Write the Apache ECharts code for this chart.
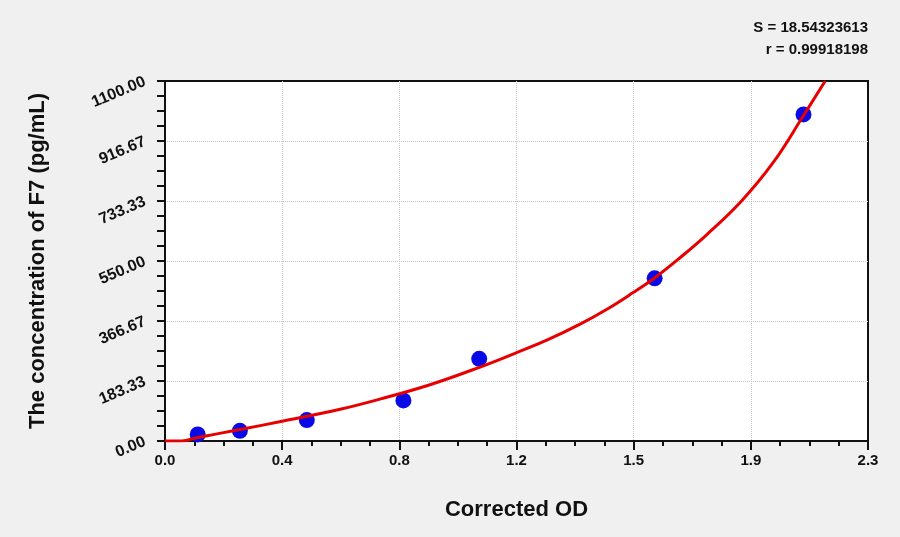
<!DOCTYPE html>
<html>
<head>
<meta charset="utf-8">
<script src="https://cdn.jsdelivr.net/npm/echarts@6/dist/echarts.min.js"></script>
<style>
  html, body { margin: 0; padding: 0; background: #f0f0f0; }
  #chart { width: 900px; height: 537px; }
</style>
</head>
<body>
<div id="chart"></div>
<script>
// measured standards (corrected OD, concentration)
const pointOD = [0.107, 0.245, 0.464, 0.780, 1.028, 1.602, 2.089];
const pointConc = [20, 31, 64, 124, 251, 497, 998];

// fitted curve
const curveOD = [0, 0.055, 0.104, 0.245, 0.387, 0.573, 0.703, 0.867, 1.031, 1.145, 1.249, 1.358, 1.450, 1.529, 1.603, 1.685, 1.772, 1.884, 1.990, 2.088, 2.160];
const curveConc = [0, 0, 10, 35, 61, 97, 128, 172, 226, 268, 308, 357, 405, 452, 499, 560, 630, 731, 851, 993, 1100];

const xTickLabels = ['0.0', '0.4', '0.8', '1.2', '1.5', '1.9', '2.3'];
const yTickLabels = ['0.00', '183.33', '366.67', '550.00', '733.33', '916.67', '1100.00'];

const xMax = 2.3, yMax = 1100;
const xStep = xMax / 6, yStep = yMax / 6;

const chart = echarts.init(document.getElementById('chart'));
const font = 'Arial, "Liberation Sans", sans-serif';
const grid = { color: '#c8c8c8', type: 'dotted', width: 1 };

chart.setOption({
  backgroundColor: '#f0f0f0',
  animation: false,
  grid: {
    left: 165, right: 32, top: 81, bottom: 96,
    show: true, backgroundColor: '#fff', borderColor: '#111', borderWidth: 2
  },
  graphic: [
    {
      type: 'text', right: 32, top: 20,
      style: { text: 'S = 18.54323613', font: 'bold 15px ' + font, fill: '#111', align: 'right' }
    },
    {
      type: 'text', right: 32, top: 42,
      style: { text: 'r = 0.99918198', font: 'bold 15px ' + font, fill: '#111', align: 'right' }
    }
  ],
  xAxis: {
    type: 'value', min: 0, max: xMax, interval: xStep,
    name: 'Corrected OD', nameLocation: 'middle', nameGap: 58,
    nameTextStyle: { fontFamily: font, fontWeight: 'bold', fontSize: 22, color: '#111' },
    axisLine: { onZero: false, lineStyle: { color: '#111', width: 2 } },
    axisTick: { length: 9, lineStyle: { color: '#111', width: 2 } },
    minorTick: { show: true, splitNumber: 4, length: 5, lineStyle: { color: '#111', width: 2 } },
    splitLine: { show: true, showMinLine: false, showMaxLine: false, lineStyle: grid },
    axisLabel: {
      margin: 12, fontFamily: font, fontWeight: 'bold', fontSize: 15, color: '#111',
      formatter: v => xTickLabels[Math.round(v / xStep)]
    }
  },
  yAxis: {
    type: 'value', min: 0, max: yMax, interval: yStep,
    name: 'The concentration of F7 (pg/mL)', nameLocation: 'middle', nameGap: 116,
    nameTextStyle: { fontFamily: font, fontWeight: 'bold', fontSize: 22, color: '#111' },
    axisLine: { onZero: false, lineStyle: { color: '#111', width: 2 } },
    axisTick: { length: 8, lineStyle: { color: '#111', width: 2 } },
    minorTick: { show: true, splitNumber: 4, length: 8, lineStyle: { color: '#111', width: 2 } },
    splitLine: { show: true, showMinLine: false, showMaxLine: false, lineStyle: grid },
    axisLabel: {
      margin: 20, rotate: 23, fontFamily: font, fontWeight: 'bold', fontSize: 16, color: '#111',
      formatter: v => yTickLabels[Math.round(v / yStep)]
    }
  },
  series: [
    {
      type: 'line',
      data: curveOD.map((x, i) => [x, curveConc[i]]),
      smooth: 0.4,
      showSymbol: false,
      lineStyle: { color: '#e80000', width: 3 },
      z: 3
    },
    {
      type: 'scatter',
      data: pointOD.map((x, i) => [x, pointConc[i]]),
      symbolSize: 16,
      itemStyle: { color: '#0a0ae6', opacity: 1 },
      z: 2
    }
  ]
});
</script>
</body>
</html>
